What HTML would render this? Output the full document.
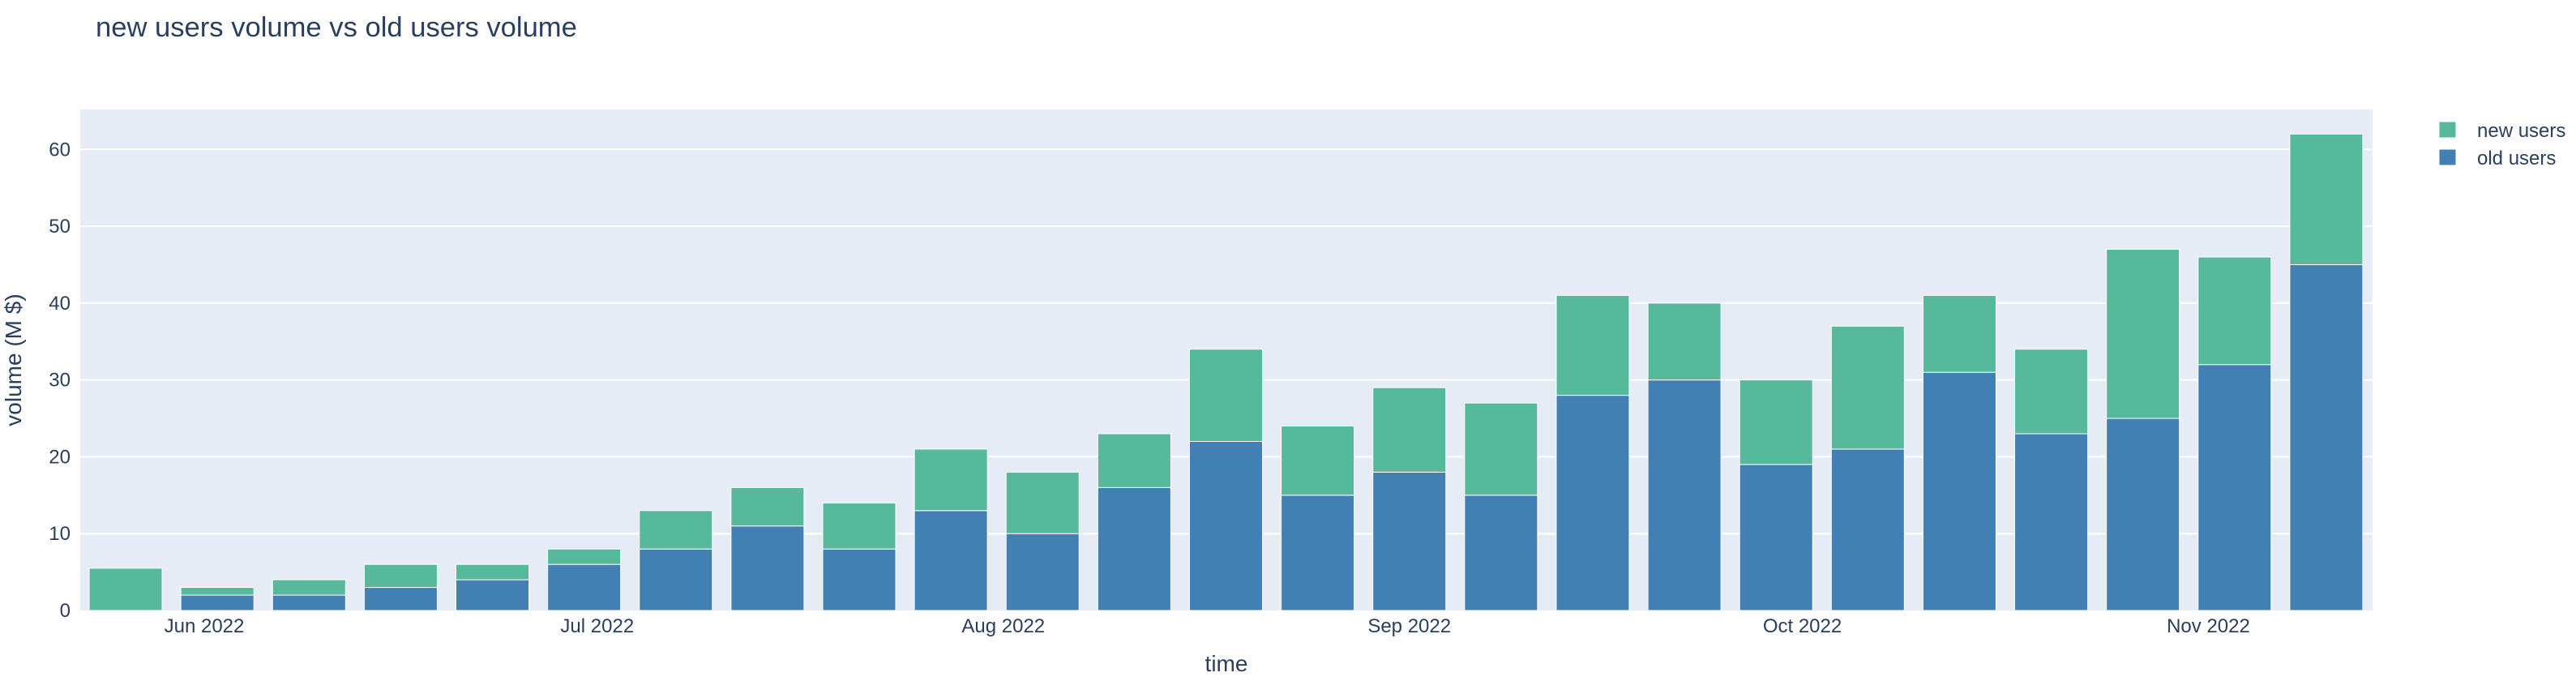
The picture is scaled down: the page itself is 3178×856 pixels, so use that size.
<!DOCTYPE html>
<html><head><meta charset="utf-8"><style>
html,body{margin:0;padding:0;background:#fff;}
svg{display:block;font-family:"Liberation Sans",Arial,sans-serif;}
</style></head><body>
<svg id="chart" width="3178" height="856" xmlns="http://www.w3.org/2000/svg">
<rect x="0" y="0" width="3178" height="856" fill="#fff"/>
<text x="118" y="45" font-size="34.6" fill="#2a3f5f">new users volume vs old users volume</text>
<rect x="99" y="135" width="2828" height="618" fill="#e5ecf6"/>
<g id="grid"></g>
<g id="bars"></g>
<g id="yticks"></g>
<g id="xticks"></g>
<text x="1513" y="828" font-size="28" fill="#2a3f5f" text-anchor="middle">time</text>
<text transform="translate(26,444) rotate(-90)" font-size="28" fill="#2a3f5f" text-anchor="middle">volume (M $)</text>
<g>
  <g>
    <rect x="3009" y="150" width="21" height="20" fill="#56b99c" stroke="#fff" stroke-width="1"/>
    <text x="3056" y="169" font-size="24" fill="#2a3f5f">new users</text>
  </g>
  <g>
    <rect x="3009" y="184" width="21" height="20" fill="#427fb3" stroke="#fff" stroke-width="1"/>
    <text x="3056" y="203" font-size="24" fill="#2a3f5f">old users</text>
  </g>
</g>
</svg>
<script>
const weekStarts = ["2022-05-26","2022-06-02","2022-06-09","2022-06-16","2022-06-23","2022-06-30","2022-07-07","2022-07-14","2022-07-21","2022-07-28","2022-08-04","2022-08-11","2022-08-18","2022-08-25","2022-09-01","2022-09-08","2022-09-15","2022-09-22","2022-09-29","2022-10-06","2022-10-13","2022-10-20","2022-10-27","2022-11-03","2022-11-10"];
const oldUsers = [0,2,2,3,4,6,8,11,8,13,10,16,22,15,18,15,28,30,19,21,31,23,25,32,45];
const newUsers = [5.5,1,2,3,2,2,5,5,6,8,8,7,12,9,11,12,13,10,11,16,10,11,22,14,17];
const yTicks = [0,10,20,30,40,50,60];
const xTickDates = ["2022-06-01","2022-07-01","2022-08-01","2022-09-01","2022-10-01","2022-11-01"];
const xTickLabels = ["Jun 2022","Jul 2022","Aug 2022","Sep 2022","Oct 2022","Nov 2022"];

const NS = "http://www.w3.org/2000/svg";
const plotL = 99, plotR = 2927, plotT = 135, plotB = 753;
const yMax = 65.2;
const ref = Date.UTC(2022,5,1);
const pxPerDay = 16.16, refX = 252;
function dayOf(s){const p=s.split("-");return (Date.UTC(+p[0],+p[1]-1,+p[2])-ref)/86400000;}
function xScale(s){return refX + dayOf(s)*pxPerDay;}
function yScale(v){return plotB - v/yMax*(plotB-plotT);}
const barW = 5.57*pxPerDay;

const grid = document.getElementById('grid');
const yt = document.getElementById('yticks');
yTicks.forEach(t=>{
  const y = yScale(t);
  if(t>0){
    const l=document.createElementNS(NS,'line');
    
    
    l.setAttribute('x1',plotL);l.setAttribute('x2',plotR);
    l.setAttribute('y1',y);l.setAttribute('y2',y);
    l.setAttribute('stroke','#fff');l.setAttribute('stroke-width','2');
    grid.appendChild(l);
  }
  const tx=document.createElementNS(NS,'text');
  
  
  tx.setAttribute('x',plotL-12);tx.setAttribute('y',y+8);
  tx.setAttribute('text-anchor','end');tx.setAttribute('font-size','24');tx.setAttribute('fill','#2a3f5f');
  tx.textContent=t;
  yt.appendChild(tx);
});
const xt = document.getElementById('xticks');
xTickDates.forEach((d,i)=>{
  const tx=document.createElementNS(NS,'text');
  
  
  tx.setAttribute('x',xScale(d));tx.setAttribute('y',780);
  tx.setAttribute('text-anchor','middle');tx.setAttribute('font-size','24');tx.setAttribute('fill','#2a3f5f');
  tx.textContent=xTickLabels[i];
  xt.appendChild(tx);
});
const bars = document.getElementById('bars');
weekStarts.forEach((d,i)=>{
  const cx = xScale(d), x0 = cx - barW/2;
  const o = oldUsers[i], n = newUsers[i];
  if(o>0){
    const r=document.createElementNS(NS,'rect');
    
    
    r.setAttribute('x',x0);r.setAttribute('width',barW);
    r.setAttribute('y',yScale(o));r.setAttribute('height',yScale(0)-yScale(o));
    r.setAttribute('fill','#427fb3');r.setAttribute('stroke','#fff');r.setAttribute('stroke-width','1');
    bars.appendChild(r);
  }
  const g=document.createElementNS(NS,'rect');
  
  
  g.setAttribute('x',x0);g.setAttribute('width',barW);
  g.setAttribute('y',yScale(o+n));g.setAttribute('height',yScale(o)-yScale(o+n));
  g.setAttribute('fill','#56b99c');g.setAttribute('stroke','#fff');g.setAttribute('stroke-width','1');
  bars.appendChild(g);
});
</script>
</body></html>
